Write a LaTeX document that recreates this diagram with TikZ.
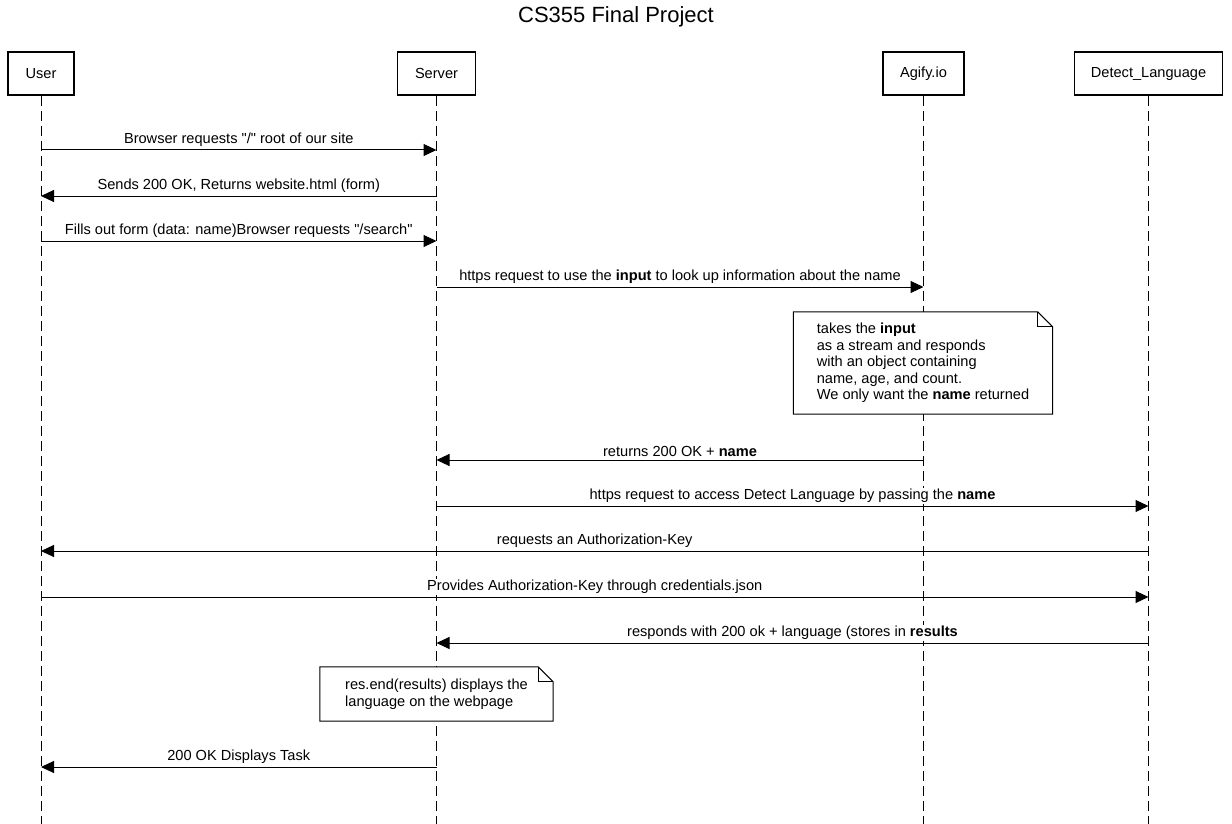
\documentclass[tikz,border=0pt]{standalone}
\usepackage{fontspec}
\setmainfont{Liberation Sans}
\usetikzlibrary{arrows.meta}

\begin{document}
\begin{tikzpicture}[x=1pt, y=-1pt,
    font = \fontsize{14.6}{16.5}\selectfont,
    actor/.style = {draw, line width=1.8pt, minimum height=43pt},
    life/.style = {line width=1pt, dash pattern=on 10pt off 5pt},
    msg/.style = {line width=1pt, -{Triangle[length=13pt, width=12pt]}},
    lbl/.style = {above=1.5pt, fill=white, inner sep=1pt},
    note/.style = {fill=white, align=left, inner xsep=23pt}]
  \useasboundingbox (0, 0) rectangle (1232, 824);

  \node (title) at (616, 17) {\fontsize{22}{24}\selectfont CS355 Final Project};

  % heads of the lifelines
  \node[actor, minimum width=66pt]  (user)   at (41, 73.5)     {User};
  \node[actor, minimum width=78pt]  (server) at (436.5, 73.5)  {Server};
  \node[actor, minimum width=81pt]  (agify)  at (923.5, 73.5)  {Agify.io};
  \node[actor, minimum width=148pt] (detect) at (1148.5, 73.5) {Detect\_Language};

  \coordinate (bottom) at (0, 824);
  \foreach \who in {user, server, agify, detect}
    \draw[life] (\who.south) -- (\who |- bottom);

  % rows of the messages
  \foreach \n/\y in {1/150, 2/196, 3/241, 4/287, 5/460, 6/506, 7/551, 8/597, 9/643, 10/767}
    \coordinate (r\n) at (0, \y);

  \draw[msg] (user |- r1) -- node[lbl] {Browser requests \textquotedbl/\textquotedbl\ root of our site} (server |- r1);
  \draw[msg] (server |- r2) -- node[lbl] {Sends 200 OK, Returns website.html (form)} (user |- r2);
  \draw[msg] (user |- r3) -- node[lbl] {Fills out form (data: name)Browser requests \textquotedbl/search\textquotedbl} (server |- r3);
  \draw[msg] (server |- r4) -- node[lbl] {https request to use the \textbf{input} to look up information about the name} (agify |- r4);

  \node[note, minimum width=259pt, minimum height=102pt] (agnote) at (923, 363)
    {takes the \textbf{input}\\as a stream and responds\\with an object containing\\name, age, and count.\\We only want the \textbf{name} returned};
  \draw[line width=1pt] (agnote.north west) -- ([xshift=-15pt]agnote.north east)
    -- ([yshift=-15pt]agnote.north east) -- (agnote.south east) -- (agnote.south west) -- cycle;
  \draw[line width=1pt] ([xshift=-15pt]agnote.north east) -- ([xshift=-15pt, yshift=-15pt]agnote.north east)
    -- ([yshift=-15pt]agnote.north east);

  \draw[msg] (agify |- r5) -- node[lbl] {returns 200 OK + \textbf{name}} (server |- r5);
  \draw[msg] (server |- r6) -- node[lbl] {https request to access Detect Language by passing the \textbf{name}} (detect |- r6);
  \draw[msg] (detect |- r7) -- node[lbl] {requests an Authorization-Key} (user |- r7);
  \draw[msg] (user |- r8) -- node[lbl] {Provides Authorization-Key through credentials.json} (detect |- r8);
  \draw[msg] (detect |- r9) -- node[lbl] {responds with 200 ok + language (stores in \textbf{results}} (server |- r9);

  \node[note, minimum width=233pt, minimum height=54pt] (resnote) at (436.5, 694)
    {res.end(results) displays the\\language on the webpage};
  \draw[line width=1pt] (resnote.north west) -- ([xshift=-15pt]resnote.north east)
    -- ([yshift=-15pt]resnote.north east) -- (resnote.south east) -- (resnote.south west) -- cycle;
  \draw[line width=1pt] ([xshift=-15pt]resnote.north east) -- ([xshift=-15pt, yshift=-15pt]resnote.north east)
    -- ([yshift=-15pt]resnote.north east);

  \draw[msg] (server |- r10) -- node[lbl] {200 OK Displays Task} (user |- r10);
\end{tikzpicture}
\end{document}
